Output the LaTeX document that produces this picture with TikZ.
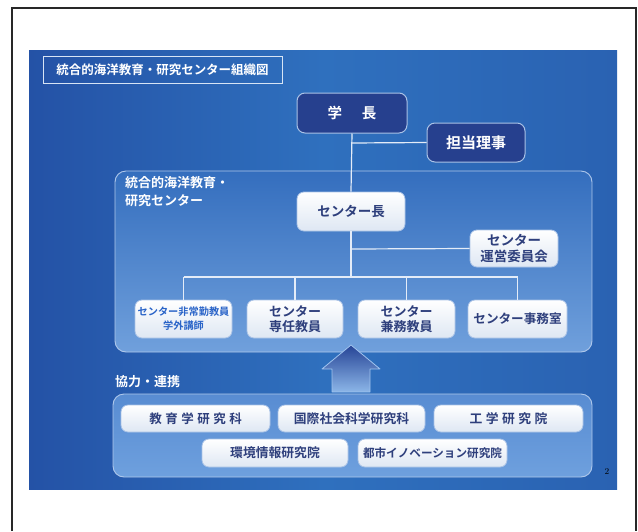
\documentclass[tikz,border=0pt]{standalone}
\usepackage{fontspec}
\newfontfamily\jp{Noto Sans CJK JP}[BoldFont={Noto Sans CJK JP Bold}]
\usetikzlibrary{shadings}
\definecolor{slideL}{HTML}{2452A6}
\definecolor{slideM}{HTML}{2F70BE}
\definecolor{slideR}{HTML}{2A62B2}
\definecolor{navy}{HTML}{26408E}
\definecolor{navytext}{HTML}{2E3F7C}
\definecolor{bluetext}{HTML}{2A64C8}
\definecolor{edge}{HTML}{A9C2E6}
\definecolor{lineW}{HTML}{E4ECF8}
\newcommand\kgap{\hspace{3.5pt}}
\tikzset{
  whitebox/.style={rounded corners=7pt, draw=edge, line width=0.8pt,
    top color=white, bottom color={rgb,255:red,222;green,231;blue,243},
    align=center, inner sep=1pt, text=navytext,
    font=\jp\bfseries\fontsize{13}{15}\selectfont},
  navybox/.style={rounded corners=8pt, draw=edge, line width=1pt, fill=navy,
    text=white, align=center, inner sep=1pt,
    font=\jp\bfseries\fontsize{14.5}{16}\selectfont},
  conn/.style={draw=lineW, line width=1.2pt},
  wlabel/.style={text=white, font=\jp\bfseries\fontsize{13}{18}\selectfont,
    align=left, inner sep=0pt}
}
\begin{document}
\begin{tikzpicture}[x=1pt,y=-1pt]
\useasboundingbox (0,0) rectangle (638,531);
\fill[white] (0,0) rectangle (638,531);
% page frame
\draw[line width=2pt, draw={rgb,255:red,40;green,40;blue,40}]
  (12,531) -- (12,8) -- (636,8) -- (636,531);
% slide
\shade[left color=slideL, right color=slideR, middle color=slideM] (29,50) rectangle (617,489);
% title
\node[draw={rgb,255:red,215;green,228;blue,245}, line width=0.9pt, minimum width=239pt,
  minimum height=27pt, text=white, inner sep=0pt,
  font=\jp\bfseries\fontsize{12.5}{14}\selectfont] (title) at (162.5,69.5)
  {統合的海洋教育・研究センター組織図};
% center container
\shade[rounded corners=11pt, top color={rgb,255:red,52;green,110;blue,190},
  bottom color={rgb,255:red,112;green,160;blue,220}]
  (115,171) rectangle (592,352);
\draw[rounded corners=11pt, draw={rgb,255:red,175;green,200;blue,235}, line width=0.9pt]
  (115,171) rectangle (592,352);
\node[wlabel, anchor=north west] (clabel) at (125,176)
  {統合的海洋教育・\\研究センター};
% top boxes
\node[navybox, minimum width=110pt, minimum height=40pt] (gaku) at (352,113) {学\hspace{20pt}長};
\node[navybox, minimum width=98pt, minimum height=39pt, font=\jp\bfseries\fontsize{15}{16}\selectfont] (riji) at (476,142.5) {担当理事};
\node[whitebox, minimum width=108pt, minimum height=39pt, font=\jp\bfseries\fontsize{13.5}{15}\selectfont] (chou) at (351,211.5) {センター長};
\node[whitebox, minimum width=88pt, minimum height=37pt, font=\jp\bfseries\fontsize{13.5}{16}\selectfont] (unei) at (514,248.5) {センター\\運営委員会};
% staff boxes
\node[whitebox, minimum width=97pt, minimum height=38pt, text=bluetext,
  font=\jp\bfseries\fontsize{10.2}{14}\selectfont] (b1) at (183.5,319) {センター非常勤教員\\学外講師};
\node[whitebox, minimum width=96pt, minimum height=38pt] (b2) at (295,319) {センター\\専任教員};
\node[whitebox, minimum width=97pt, minimum height=38pt] (b3) at (406.5,319) {センター\\兼務教員};
\node[whitebox, minimum width=99pt, minimum height=38pt, font=\jp\bfseries\fontsize{12.6}{15}\selectfont] (b4) at (517.5,319) {センター事務室};
% connectors
\coordinate (jx) at (351,277);
\coordinate (rj) at (351,143);
\coordinate (uj) at (351,249);
\draw[conn] (gaku.south) -- (chou.north);
\draw[conn] (rj) -- (riji.west);
\draw[conn] (chou.south) -- (jx);
\draw[conn] (uj) -- (unei.west);
\draw[conn] (b1.north |- jx) -- (b4.north |- jx);
\foreach \b in {b1,b2,b3,b4} {\draw[conn] (\b.north |- jx) -- (\b.north);}
% arrow
\shade[top color={rgb,255:red,38;green,68;blue,150}, bottom color={rgb,255:red,140;green,182;blue,232}]
  (351,345) -- (380,369) -- (370,369) -- (370,392) -- (332,392) -- (332,369) -- (322,369) -- cycle;
\draw[draw={rgb,255:red,160;green,195;blue,238}, line width=0.8pt, line join=round]
  (351,345) -- (380,369) -- (370,369) -- (370,392) -- (332,392) -- (332,369) -- (322,369) -- cycle;
% cooperation
\node[wlabel, anchor=west] (klabel) at (115,382) {協力・連携};
\shade[rounded corners=11pt, top color={rgb,255:red,88;green,140;blue,210},
  bottom color={rgb,255:red,110;green,160;blue,222}]
  (113,394) rectangle (592,477);
\draw[rounded corners=11pt, draw={rgb,255:red,175;green,200;blue,235}, line width=0.9pt]
  (113,394) rectangle (592,477);
\node[whitebox, minimum width=149pt, minimum height=27pt, font=\jp\bfseries\fontsize{12.5}{14}\selectfont] (r1) at (195.5,418.5) {教\kgap 育\kgap 学\kgap 研\kgap 究\kgap 科};
\node[whitebox, minimum width=147pt, minimum height=27pt, font=\jp\bfseries\fontsize{12.8}{14}\selectfont] (r2) at (351.5,418.5) {国際社会科学研究科};
\node[whitebox, minimum width=149pt, minimum height=27pt, font=\jp\bfseries\fontsize{12.8}{14}\selectfont] (r3) at (508.5,418.5) {工\kgap 学\kgap 研\kgap 究\kgap 院};
\node[whitebox, minimum width=146pt, minimum height=28pt, font=\jp\bfseries\fontsize{12.8}{14}\selectfont] (r4) at (275,453) {環境情報研究院};
\node[whitebox, minimum width=149pt, minimum height=28pt, font=\jp\bfseries\fontsize{11.6}{14}\selectfont] (r5) at (432.5,453) {都市イノベーション研究院};
% page number
\node[font=\fontsize{9}{10}\selectfont, inner sep=0pt] (pg) at (607,471) {2};
\end{tikzpicture}
\end{document}
